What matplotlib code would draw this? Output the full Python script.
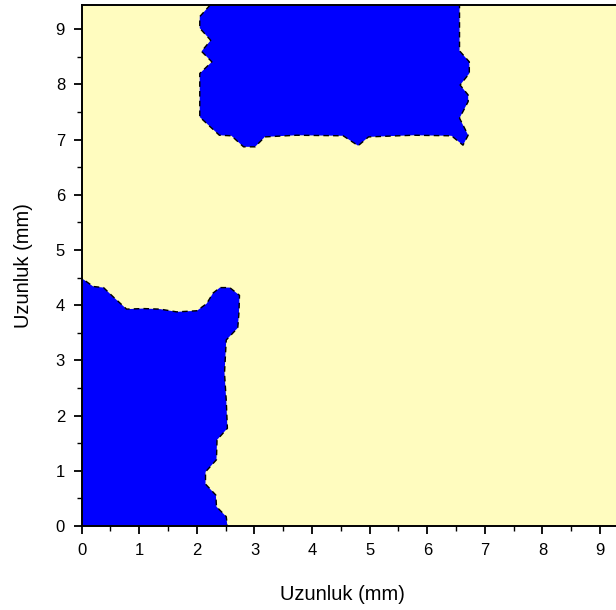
import matplotlib
matplotlib.use('Agg')
import matplotlib.pyplot as plt
from matplotlib.ticker import MultipleLocator

plt.rcParams['font.family'] = ['Liberation Sans', 'DejaVu Sans']

# Blue region in the lower-left corner (mm)
lower_x = [0.00, 0.00, 0.20, 0.38, 0.55, 0.78, 1.07, 1.36, 1.65, 2.00, 2.17, 2.28,
           2.40, 2.57, 2.74, 2.73, 2.71, 2.51, 2.48, 2.51, 2.53, 2.35, 2.34, 2.15,
           2.15, 2.33, 2.34, 2.51, 2.53]
lower_y = [0.00, 4.49, 4.34, 4.32, 4.15, 3.93, 3.94, 3.93, 3.88, 3.90, 4.03, 4.22,
           4.32, 4.32, 4.18, 3.85, 3.59, 3.37, 2.77, 2.28, 1.77, 1.56, 1.20, 0.98,
           0.76, 0.56, 0.35, 0.17, 0.00]

# Blue region along the top edge (mm)
upper_x = [2.23, 2.05, 2.05, 2.24, 2.08, 2.26, 2.05, 2.05, 2.39, 2.60, 2.81, 3.01,
           3.18, 3.73, 4.54, 4.80, 4.98, 5.76, 6.42, 6.62, 6.71, 6.56, 6.71, 6.71,
           6.57, 6.73, 6.73, 6.56, 6.56]
upper_y = [9.44, 9.23, 9.02, 8.80, 8.60, 8.41, 8.20, 7.41, 7.08, 7.07, 6.87, 6.87,
           7.05, 7.08, 7.07, 6.89, 7.05, 7.08, 7.07, 6.90, 7.08, 7.39, 7.69, 7.81,
           7.99, 8.20, 8.41, 8.61, 9.44]

x_max = 9.44
y_max = 9.44
ticks = list(range(0, 10))

BACKGROUND_COLOR = '#FFFCBF'
REGION_COLOR = '#0000FF'

fig = plt.figure(figsize=(6.16, 6.10), dpi=100)
ax = fig.add_axes([0.1326, 0.1377, 0.8827, 0.8541])
ax.set_facecolor(BACKGROUND_COLOR)

for xs, ys in [(lower_x, lower_y), (upper_x, upper_y)]:
    ax.fill(xs, ys, facecolor=REGION_COLOR, edgecolor='none', zorder=2)
    ax.plot(xs, ys, color='black', linestyle=(0, (4, 3)), linewidth=1.0, zorder=3)

ax.set_xlim(0, x_max)
ax.set_ylim(0, y_max)
ax.set_xticks(ticks)
ax.set_yticks(ticks)
ax.xaxis.set_minor_locator(MultipleLocator(0.5))
ax.yaxis.set_minor_locator(MultipleLocator(0.5))
ax.tick_params(which='major', direction='out', length=6, width=1.3, labelsize=12,
               pad=6, top=False, right=False)
ax.tick_params(which='minor', direction='out', length=3.5, width=1.0,
               top=False, right=False)
for side in ['left', 'bottom', 'top', 'right']:
    ax.spines[side].set_linewidth(1.4)

ax.set_xlabel('Uzunluk (mm)', fontsize=14.5, labelpad=20)
ax.xaxis.label.set_x(0.48)
ax.set_ylabel('Uzunluk (mm)', fontsize=14.5, labelpad=16)

fig.savefig('out.png', dpi=100)
